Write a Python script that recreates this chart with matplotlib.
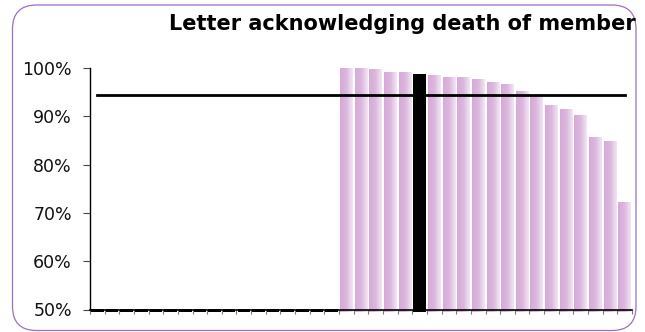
import matplotlib
matplotlib.use('Agg')
import matplotlib.pyplot as plt
import numpy as np
from matplotlib.patches import FancyBboxPatch
from matplotlib.transforms import IdentityTransform
from matplotlib.colors import LinearSegmentedColormap

# ---- data ----
title = "Letter acknowledging death of member"
# 37 organisations; first 17 have no value (0 -> drawn at the baseline)
values = [0.0] * 17 + [1.000, 1.000, 0.998, 0.990, 0.990, 0.988, 0.984, 0.980,
                       0.980, 0.976, 0.970, 0.967, 0.951, 0.944, 0.922, 0.914,
                       0.901, 0.856, 0.847, 0.721]
highlight = 22          # index of the highlighted (black) bar
benchmark = 0.945       # horizontal reference line
yticks = [0.5, 0.6, 0.7, 0.8, 0.9, 1.0]
ytick_labels = ["50%", "60%", "70%", "80%", "90%", "100%"]

# ---- figure ----
W, H = 645, 332
fig = plt.figure(figsize=(W / 100, H / 100), dpi=100)
ax = fig.add_axes([90 / W, 22.5 / H, 542 / W, 241.5 / H])

x = np.arange(len(values))
base = 0.495
heights = [max(v, 0.5) - base for v in values]
colors = []
for i, v in enumerate(values):
    if i == highlight or v == 0:
        colors.append('black')
    else:
        colors.append('none')
bars = ax.bar(x, heights, bottom=base, width=0.86, color=colors,
              linewidth=0, clip_on=False, zorder=2)

cmap = LinearSegmentedColormap.from_list('pinkgrad', ['#d5aad7', '#dcb8de', '#f2e7f4'])
grad = np.linspace(0, 1, 64).reshape(1, -1)
for i, b in enumerate(bars):
    if i == highlight or values[i] == 0:
        continue
    x0, y0 = b.get_x(), b.get_y()
    im = ax.imshow(grad, cmap=cmap, aspect='auto', interpolation='bilinear',
                   extent=[x0, x0 + b.get_width(), y0, y0 + b.get_height()],
                   zorder=1.5)
    im.set_clip_path(b)
    im.set_clip_box(fig.bbox)

ax.plot(x, [benchmark] * len(x), color='black', lw=2, zorder=3)

ax.set_xlim(-0.5, len(values) - 0.5)
ax.set_ylim(0.5, 1.0)
ax.set_yticks(yticks)
ax.set_yticklabels(ytick_labels, fontsize=12.5, color='#111111')
ax.set_xticks(np.arange(-0.5, len(values), 1))
ax.set_xticklabels([])
ax.tick_params(axis='x', length=3, width=0.8, color='#777777', direction='out')
ax.tick_params(axis='y', length=5, width=0.8, color='#444444', pad=8)
for s in ['top', 'right']:
    ax.spines[s].set_visible(False)
ax.spines['left'].set_linewidth(1)
ax.spines['bottom'].set_linewidth(1.2)
ax.spines['bottom'].set_zorder(4)
ax.patch.set_alpha(0)

fig.text(636 / W, 1 - 30 / H, title, ha='right', va='baseline',
         fontsize=15, fontweight='bold', color='black')

frame = FancyBboxPatch((12.5, 1.5), 623.5, 325.5,
                       boxstyle="round,pad=0,rounding_size=24",
                       transform=IdentityTransform(), fill=False,
                       edgecolor='#9a6fc8', linewidth=0.9)
fig.add_artist(frame)

fig.savefig('out.png', dpi=100)
